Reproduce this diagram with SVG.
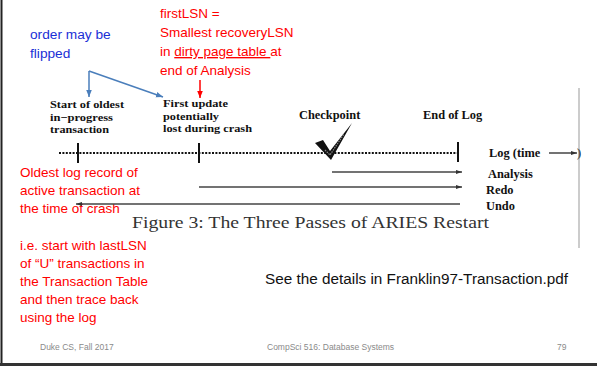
<svg xmlns="http://www.w3.org/2000/svg" width="597" height="366" viewBox="0 0 597 366">
<defs>
<style>
.red{fill:#ff0000;font-family:"Liberation Sans",Arial,sans-serif;font-size:13.5px}
.blue{fill:#1a2fd6;font-family:"Liberation Sans",Arial,sans-serif;font-size:13.7px}
.lbl{fill:#111;font-family:"Liberation Serif","Times New Roman",serif;font-size:12.4px;font-weight:bold}
.lbs{fill:#111;font-family:"Liberation Serif","Times New Roman",serif;font-size:11.4px;font-weight:bold}
.cap{fill:#333;font-family:"Liberation Serif","Times New Roman",serif;font-size:17px}
.foot{fill:#8a8a8a;font-family:"Liberation Sans",Arial,sans-serif;font-size:8.5px}
.pass{stroke:#444;stroke-width:1.5;fill:none}
.tick{stroke:#111;stroke-width:2}
</style>
<marker id="ah" viewBox="0 0 10 10" refX="10" refY="5" markerWidth="10" markerHeight="6" orient="auto" markerUnits="userSpaceOnUse">
<path d="M0,1.5 L10,5 L0,8.5 Z" fill="#333"/>
</marker>
<marker id="ahb" viewBox="0 0 10 10" refX="10" refY="5" markerWidth="7" markerHeight="7" orient="auto" markerUnits="userSpaceOnUse">
<path d="M0,1 L10,5 L0,9 Z" fill="#4a7ebb"/>
</marker>
<marker id="ahr" viewBox="0 0 10 10" refX="10" refY="5" markerWidth="7" markerHeight="7" orient="auto" markerUnits="userSpaceOnUse">
<path d="M0,1 L10,5 L0,9 Z" fill="#ff0000"/>
</marker>
</defs>
<rect width="597" height="366" fill="#fff"/>
<line x1="1.5" y1="0" x2="1.5" y2="366" stroke="#222" stroke-width="2"/>
<line x1="0" y1="364.5" x2="597" y2="364.5" stroke="#333" stroke-width="3"/>

<g id="note-order">
<text class="blue" x="30" y="39">order may be</text>
<text class="blue" x="30" y="58">flipped</text>
</g>
<g id="note-firstlsn">
<text class="red" x="160" y="18">firstLSN =</text>
<text class="red" x="160" y="37">Smallest recoveryLSN</text>
<text class="red" x="160" y="56">in <tspan text-decoration="underline">dirty page table </tspan>at</text>
<text class="red" x="160" y="75">end of Analysis</text>
</g>

<g id="label-start">
<text class="lbs" x="50" y="108" textLength="74" lengthAdjust="spacingAndGlyphs">Start of oldest</text>
<text class="lbs" x="50" y="120.5" textLength="63" lengthAdjust="spacingAndGlyphs">in−progress</text>
<text class="lbs" x="50" y="133" textLength="59" lengthAdjust="spacingAndGlyphs">transaction</text>
</g>
<g id="label-first">
<text class="lbs" x="163" y="107" textLength="65" lengthAdjust="spacingAndGlyphs">First update</text>
<text class="lbs" x="163" y="119.5" textLength="56" lengthAdjust="spacingAndGlyphs">potentially</text>
<text class="lbs" x="163" y="132" textLength="89" lengthAdjust="spacingAndGlyphs">lost during crash</text>
</g>
<g id="label-checkpoint">
<text class="lbl" x="299" y="119">Checkpoint</text>
</g>
<g id="label-end">
<text class="lbl" x="423" y="119">End of Log</text>
</g>
<g id="label-log">
<text class="lbl" x="489" y="157">Log (time</text>
<text class="lbl" x="577" y="157">)</text>
</g>
<g id="label-analysis"><text class="lbl" x="488" y="178">Analysis</text></g>
<g id="label-redo"><text class="lbl" x="486" y="194">Redo</text></g>
<g id="label-undo"><text class="lbl" x="486" y="210">Undo</text></g>

<g id="timeline">
<line x1="59" y1="153" x2="460" y2="153" stroke="#111" stroke-width="2" stroke-dasharray="2,1.4"/>
<line class="tick" x1="78" y1="143" x2="78" y2="163"/>
<line class="tick" x1="199" y1="143" x2="199" y2="163"/>
<line class="tick" x1="458" y1="142" x2="458" y2="162"/>
</g>
<g id="checkmark">
<path d="M315,143 L323,140 L330,151 L352,123 L331,160 Z" fill="#111"/>
<path d="M325,150 L330,155 L344,134" stroke="#888" stroke-width="1.2" fill="none" stroke-dasharray="1.5,1"/>
</g>

<g id="label-oldest">
<text class="red" x="20" y="177">Oldest log record of</text>
<text class="red" x="20" y="195">active transaction at</text>
<text class="red" x="20" y="213">the time of crash</text>
</g>
<g id="label-ie">
<text class="red" x="20" y="250">i.e. start with lastLSN</text>
<text class="red" x="20" y="268">of “U” transactions in</text>
<text class="red" x="20" y="286">the Transaction Table</text>
<text class="red" x="20" y="304">and then trace back</text>
<text class="red" x="20" y="322">using the log</text>
</g>

<g id="caption">
<text class="cap" x="132" y="228" textLength="357" lengthAdjust="spacingAndGlyphs">Figure 3:  The Three Passes of ARIES Restart</text>
</g>
<g id="see">
<text x="265" y="284" fill="#111" font-family="'Liberation Sans',Arial,sans-serif" font-size="15.3px">See the details in Franklin97-Transaction.pdf</text>
</g>
<g id="footer">
<text class="foot" x="40" y="350">Duke CS, Fall 2017</text>
<text class="foot" x="267" y="350">CompSci 516: Database Systems</text>
<text class="foot" x="557" y="350">79</text>
</g>

<g id="connectors">
<line x1="89" y1="71" x2="89" y2="97" stroke="#4a7ebb" stroke-width="1.5" marker-end="url(#ahb)"/>
<line x1="89" y1="71" x2="163" y2="97" stroke="#4a7ebb" stroke-width="1.5" marker-end="url(#ahb)"/>
<line x1="200" y1="80" x2="200" y2="98" stroke="#ff0000" stroke-width="1.5" marker-end="url(#ahr)"/>
<line class="pass" x1="332" y1="172" x2="462" y2="172" marker-end="url(#ah)"/>
<line class="pass" x1="199" y1="187" x2="462" y2="187" marker-end="url(#ah)"/>
<line class="pass" x1="460" y1="204" x2="76" y2="204" marker-end="url(#ah)"/>
<line class="pass" x1="549" y1="153" x2="577" y2="153" marker-end="url(#ah)"/>
<line x1="579" y1="88" x2="579" y2="248" stroke="#999" stroke-width="1"/>
</g>
</svg>
